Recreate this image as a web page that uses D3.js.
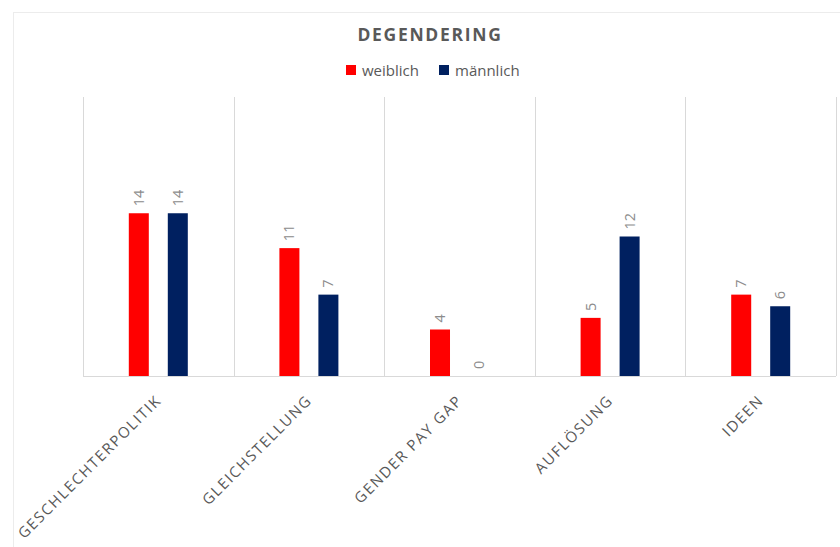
<!DOCTYPE html>
<html>
<head>
<meta charset="utf-8">
<script src="https://cdn.jsdelivr.net/npm/d3@7"></script>
<style>
  html, body { margin: 0; padding: 0; background: #fff; }
  svg { display: block; font-family: "Open Sans", "Noto Sans", sans-serif; }
</style>
</head>
<body>
<svg id="chart" width="840" height="547"></svg>
<script>
// Degendering: mentions per topic, split by gender
const categories = ["GESCHLECHTERPOLITIK", "GLEICHSTELLUNG", "GENDER PAY GAP", "AUFLÖSUNG", "IDEEN"];
const seriesNames = ["weiblich", "männlich"];
const weiblich = [14, 11, 4, 5, 7];
const maennlich = [14, 7, 0, 12, 6];
const seriesColors = ["#ff0000", "#002060"];
const title = "DEGENDERING";

const values = [weiblich, maennlich];
const FONT = '"Open Sans", "Noto Sans", sans-serif';

const svg = d3.select("#chart");
const plot = { left: 83, right: 836, top: 97, bottom: 376 };

// outer chart frame (runs off the right and bottom edges)
svg.append("rect")
  .attr("x", 13.5).attr("y", 12.5)
  .attr("width", 900).attr("height", 600)
  .attr("fill", "#fff")
  .attr("stroke", "#ececec")
  .attr("stroke-width", 1);

const x = d3.scaleBand()
  .domain(categories)
  .range([plot.left, plot.right])
  .paddingInner(0).paddingOuter(0);

const bw = x.bandwidth();
const x1 = d3.scaleBand()
  .domain(seriesNames)
  .range([bw / 2 - 29.5, bw / 2 + 29.5])
  .paddingInner(0.487).paddingOuter(0);

const y = d3.scaleLinear().domain([0, 24]).range([plot.bottom, plot.top]);

// vertical category separators
const gridPos = categories.map(c => x(c) + bw);
svg.append("g")
  .selectAll("line")
  .data([plot.left].concat(gridPos))
  .join("line")
  .attr("x1", d => Math.round(d) + 0.5).attr("x2", d => Math.round(d) + 0.5)
  .attr("y1", plot.top).attr("y2", plot.bottom)
  .attr("stroke", "#d9d9d9").attr("stroke-width", 1);

// category axis along the baseline
const xAxis = svg.append("g")
  .attr("transform", `translate(0,${plot.bottom + 0.5})`)
  .call(d3.axisBottom(x).tickSize(0).tickPadding(0));
xAxis.attr("font-family", FONT);
xAxis.select(".domain").attr("stroke", "#d9d9d9").attr("d", `M${plot.left},0H${plot.right}`);
xAxis.selectAll(".tick text")
  .attr("fill", "#595959")
  .attr("font-family", FONT)
  .attr("font-size", 15)
  .attr("letter-spacing", "1.6px")
  .attr("text-anchor", "end")
  .attr("dy", 0)
  .attr("y", 0)
  .attr("transform", `translate(4,25) rotate(-45)`);

// bars
const groups = svg.append("g")
  .selectAll("g")
  .data(categories)
  .join("g")
  .attr("transform", d => `translate(${x(d)},0)`);

const barData = (c, i) => seriesNames.map((s, k) => ({ s, k, v: values[k][i] }));

groups.selectAll("rect")
  .data((c, i) => barData(c, i))
  .join("rect")
  .attr("x", d => x1(d.s))
  .attr("width", x1.bandwidth())
  .attr("y", d => y(d.v))
  .attr("height", d => y(0) - y(d.v))
  .attr("fill", d => seriesColors[d.k]);

// value labels, rotated
groups.selectAll("text.val")
  .data((c, i) => barData(c, i))
  .join("text")
  .attr("class", "val")
  .attr("transform", d => `translate(${x1(d.s) + x1.bandwidth() / 2 + 5},${y(d.v) - 7}) rotate(-90)`)
  .attr("text-anchor", "start")
  .attr("fill", "#8c8c8c")
  .attr("font-size", 14.5)
  .text(d => d.v);

// title
svg.append("text")
  .attr("x", 430).attr("y", 41)
  .attr("text-anchor", "middle")
  .attr("fill", "#595959")
  .attr("font-size", 17.5)
  .attr("font-weight", 700)
  .attr("letter-spacing", "1.7px")
  .text(title);

// legend
const legend = svg.append("g").attr("transform", "translate(346,65)");
const legendX = [0, 93];
seriesNames.forEach((s, k) => {
  const g = legend.append("g").attr("transform", `translate(${legendX[k]},0)`);
  g.append("rect").attr("width", 10).attr("height", 10).attr("fill", seriesColors[k]);
  g.append("text")
    .attr("x", 16).attr("y", 10.5)
    .attr("fill", "#595959")
    .attr("font-size", 15)
    .text(s);
});
</script>
</body>
</html>
